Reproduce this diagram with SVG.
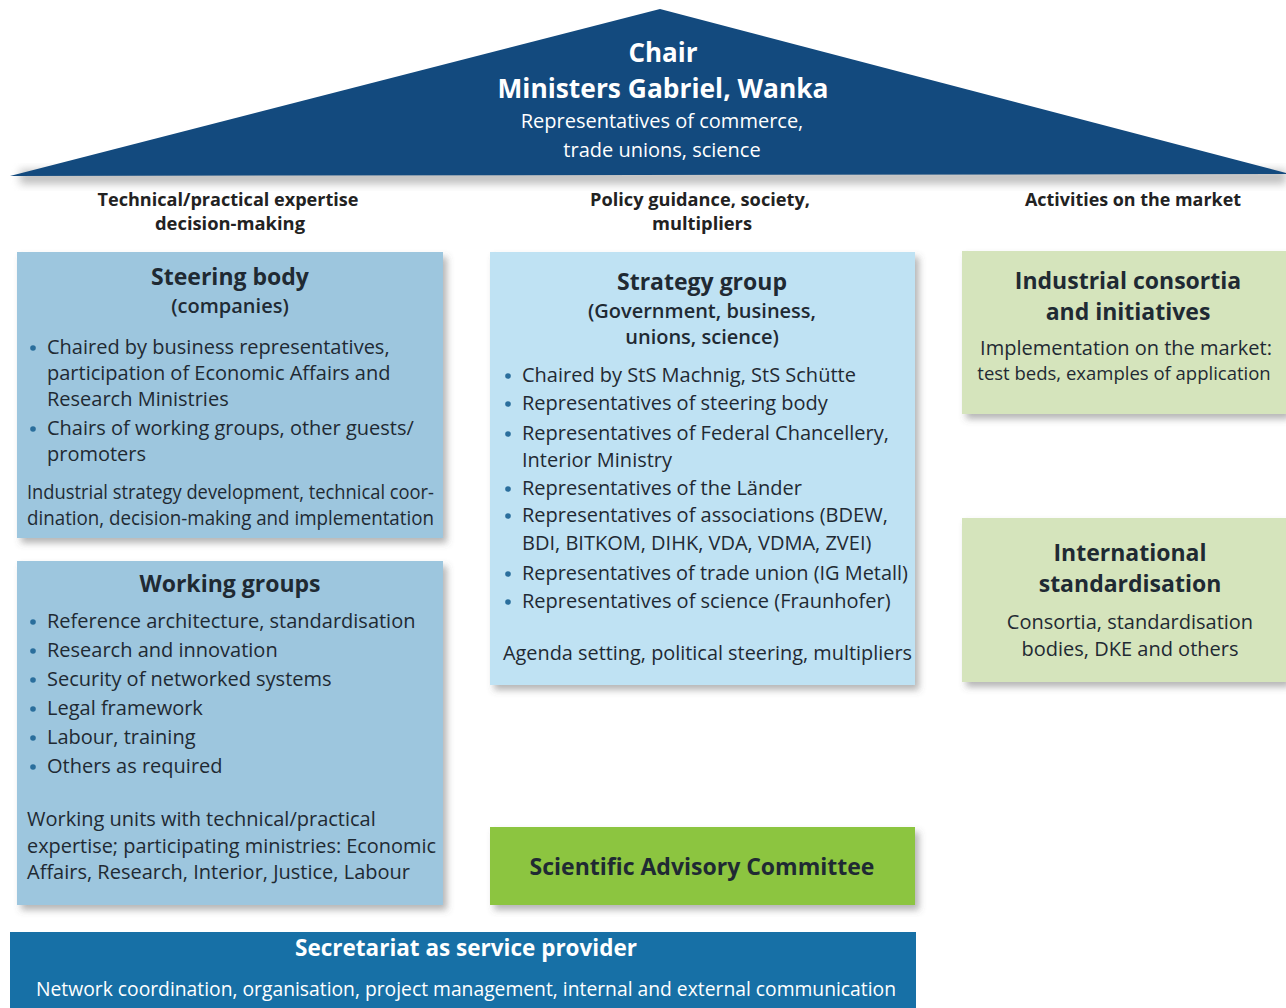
<svg xmlns="http://www.w3.org/2000/svg" width="1286" height="1008" viewBox="0 0 1286 1008">
<defs>
<filter id="sh" x="-5%" y="-5%" width="115%" height="120%">
<feDropShadow dx="4" dy="5" stdDeviation="3.5" flood-color="#5a5a5a" flood-opacity="0.45"/>
</filter>
<filter id="blur" x="-5%" y="-50%" width="110%" height="200%">
<feGaussianBlur stdDeviation="4"/>
</filter>
<style>
text{font-family:"Open Sans","Noto Sans","Liberation Sans",sans-serif;fill:#1f2a33}
.t{font-weight:700;text-anchor:middle}
.h{font-weight:700;font-size:17px;text-anchor:middle;fill:#222}
.b{font-size:20px}
.c{font-size:20px;text-anchor:middle}
.w{fill:#fff}
.dot{fill:#2a6e9c}
.blue{fill:#9dc6de}
.lblue{fill:#bfe2f3}
.lgreen{fill:#d5e4bc}
</style>
</defs>
<rect width="1286" height="1008" fill="#fff"/>

<g id="roof">
<rect x="20" y="170" width="1266" height="14" fill="#8a8a8a" opacity="0.55" filter="url(#blur)"/>
<polygon points="10,176 660,9 1290,174" fill="#134a7e"/>
<text class="t w" x="663" y="62" font-size="26">Chair</text>
<text class="t w" x="663" y="98" font-size="26" textLength="331" lengthAdjust="spacingAndGlyphs">Ministers Gabriel, Wanka</text>
<text class="c w" x="662" y="128" style="fill:#fff">Representatives of commerce,</text>
<text class="c w" x="662" y="157" style="fill:#fff">trade unions, science</text>
</g>

<g id="headers">
<text class="h" x="228" y="206" textLength="261" lengthAdjust="spacingAndGlyphs">Technical/practical expertise</text>
<text class="h" x="230" y="230" textLength="150" lengthAdjust="spacingAndGlyphs">decision-making</text>
<text class="h" x="700" y="206" textLength="220" lengthAdjust="spacingAndGlyphs">Policy guidance, society,</text>
<text class="h" x="702" y="230" textLength="100" lengthAdjust="spacingAndGlyphs">multipliers</text>
<text class="h" x="1133" y="206" textLength="216" lengthAdjust="spacingAndGlyphs">Activities on the market</text>
</g>

<g id="steering-body">
<rect class="blue" x="17" y="252" width="426" height="286" filter="url(#sh)"/>
<text class="t" x="230" y="285" font-size="23">Steering body</text>
<text class="t" x="230" y="313" font-size="20" style="font-weight:600">(companies)</text>
<circle class="dot" cx="33" cy="348" r="2.8"/>
<text class="b" x="47" y="354">Chaired by business representatives,</text>
<text class="b" x="47" y="380">participation of Economic Affairs and</text>
<text class="b" x="47" y="406">Research Ministries</text>
<circle class="dot" cx="33" cy="429" r="2.8"/>
<text class="b" x="47" y="435">Chairs of working groups, other guests/</text>
<text class="b" x="47" y="461">promoters</text>
<text class="b" x="27" y="499" textLength="407" lengthAdjust="spacingAndGlyphs">Industrial strategy development, technical coor-</text>
<text class="b" x="27" y="525" textLength="407" lengthAdjust="spacingAndGlyphs">dination, decision-making and implementation</text>
</g>

<g id="working-groups">
<rect class="blue" x="17" y="561" width="426" height="344" filter="url(#sh)"/>
<text class="t" x="230" y="592" font-size="23">Working groups</text>
<circle class="dot" cx="33" cy="622" r="2.8"/>
<text class="b" x="47" y="628">Reference architecture, standardisation</text>
<circle class="dot" cx="33" cy="651" r="2.8"/>
<text class="b" x="47" y="657">Research and innovation</text>
<circle class="dot" cx="33" cy="680" r="2.8"/>
<text class="b" x="47" y="686">Security of networked systems</text>
<circle class="dot" cx="33" cy="709" r="2.8"/>
<text class="b" x="47" y="715">Legal framework</text>
<circle class="dot" cx="33" cy="738" r="2.8"/>
<text class="b" x="47" y="744">Labour, training</text>
<circle class="dot" cx="33" cy="767" r="2.8"/>
<text class="b" x="47" y="773">Others as required</text>
<text class="b" x="27" y="826">Working units with technical/practical</text>
<text class="b" x="27" y="853" textLength="409" lengthAdjust="spacingAndGlyphs">expertise; participating ministries: Economic</text>
<text class="b" x="27" y="879">Affairs, Research, Interior, Justice, Labour</text>
</g>

<g id="strategy-group">
<rect class="lblue" x="490" y="252" width="425" height="433" filter="url(#sh)"/>
<text class="t" x="702" y="290" font-size="23">Strategy group</text>
<text class="t" x="702" y="318" font-size="20" style="font-weight:600">(Government, business,</text>
<text class="t" x="702" y="344" font-size="20" style="font-weight:600">unions, science)</text>
<circle class="dot" cx="508" cy="376" r="2.8"/>
<text class="b" x="522" y="382">Chaired by StS Machnig, StS Schütte</text>
<circle class="dot" cx="508" cy="404" r="2.8"/>
<text class="b" x="522" y="410">Representatives of steering body</text>
<circle class="dot" cx="508" cy="434" r="2.8"/>
<text class="b" x="522" y="440">Representatives of Federal Chancellery,</text>
<text class="b" x="522" y="467">Interior Ministry</text>
<circle class="dot" cx="508" cy="489" r="2.8"/>
<text class="b" x="522" y="495">Representatives of the Länder</text>
<circle class="dot" cx="508" cy="516" r="2.8"/>
<text class="b" x="522" y="522">Representatives of associations (BDEW,</text>
<text class="b" x="522" y="550">BDI, BITKOM, DIHK, VDA, VDMA, ZVEI)</text>
<circle class="dot" cx="508" cy="574" r="2.8"/>
<text class="b" x="522" y="580" textLength="386" lengthAdjust="spacingAndGlyphs">Representatives of trade union (IG Metall)</text>
<circle class="dot" cx="508" cy="602" r="2.8"/>
<text class="b" x="522" y="608">Representatives of science (Fraunhofer)</text>
<text class="b" x="503" y="660" textLength="409" lengthAdjust="spacingAndGlyphs">Agenda setting, political steering, multipliers</text>
</g>

<g id="scientific-advisory-committee">
<rect x="490" y="827" width="425" height="78" fill="#8cc540" filter="url(#sh)"/>
<text class="t" x="702" y="875" font-size="23">Scientific Advisory Committee</text>
</g>

<g id="secretariat">
<rect x="10" y="932" width="906" height="80" fill="#1770a6"/>
<text class="t w" x="466" y="956" font-size="22.5">Secretariat as service provider</text>
<text class="c" x="466" y="996" style="fill:#fff" textLength="860" lengthAdjust="spacingAndGlyphs">Network coordination, organisation, project management, internal and external communication</text>
</g>

<g id="industrial-consortia">
<rect class="lgreen" x="962" y="251" width="324" height="163" filter="url(#sh)"/>
<text class="t" x="1128" y="289" font-size="23">Industrial consortia</text>
<text class="t" x="1128" y="320" font-size="23">and initiatives</text>
<text class="c" x="1126" y="355">Implementation on the market:</text>
<text class="c" x="1124" y="380" font-size="18.5px" style="font-size:18.5px">test beds, examples of application</text>
</g>

<g id="international-standardisation">
<rect class="lgreen" x="962" y="518" width="324" height="164" filter="url(#sh)"/>
<text class="t" x="1130" y="561" font-size="23">International</text>
<text class="t" x="1130" y="592" font-size="23">standardisation</text>
<text class="c" x="1130" y="629">Consortia, standardisation</text>
<text class="c" x="1130" y="656">bodies, DKE and others</text>
</g>

<g id="connectors"></g>
</svg>
